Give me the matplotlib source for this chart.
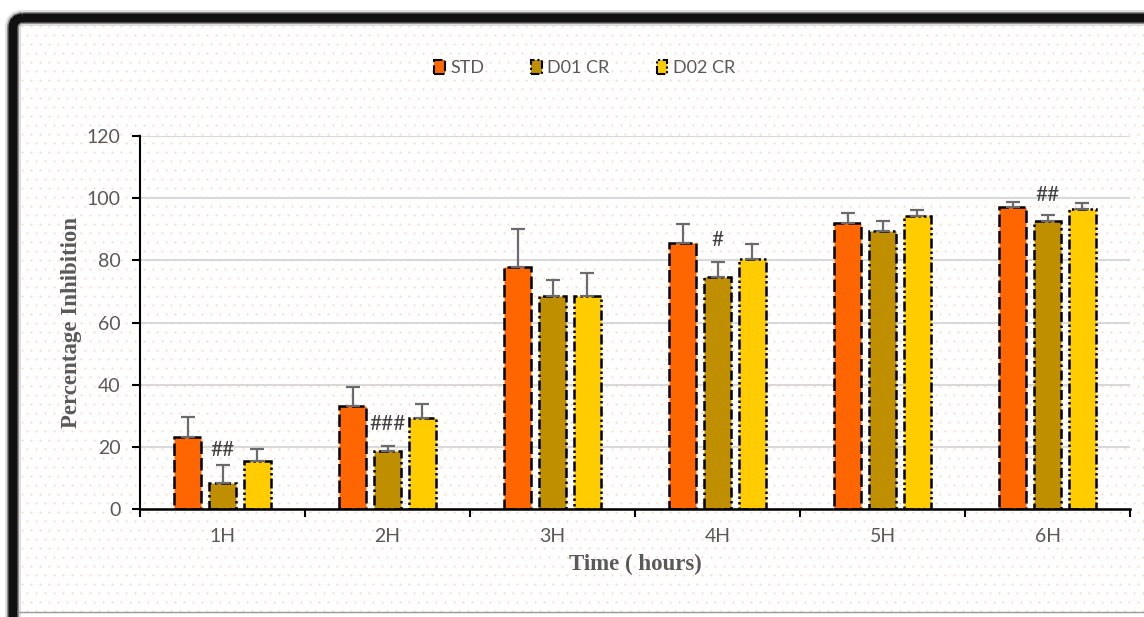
import numpy as np
import matplotlib
matplotlib.use("Agg")
import matplotlib.pyplot as plt
from matplotlib.patches import Patch, FancyBboxPatch

# data
hours = ["1H", "2H", "3H", "4H", "5H", "6H"]
std_vals = [23.2, 33.1, 77.9, 85.6, 92.0, 97.2]
std_err = [6.4, 6.2, 12.2, 6.1, 3.2, 1.6]
d01_vals = [8.4, 18.7, 68.5, 74.6, 89.4, 92.7]
d01_err = [5.8, 1.6, 5.2, 4.9, 3.3, 1.9]
d02_vals = [15.4, 29.3, 68.5, 80.4, 94.3, 96.5]
d02_err = [3.9, 4.5, 7.4, 4.9, 1.9, 2.0]
marks = ["##", "###", "", "#", "", "##"]
mark_y = [19.0, 27.5, 0, 86.5, 0, 101.0]

series = [
    ("STD", std_vals, std_err, "#ff6600", (0, (5, 1.6))),
    ("D01 CR", d01_vals, d01_err, "#bf8f00", (0, (4, 1.4, 1, 1.4))),
    ("D02 CR", d02_vals, d02_err, "#ffcc00", (0, (4, 1.2, 1, 1.2, 1, 1.2))),
]

fig = plt.figure(figsize=(11.44, 6.17), dpi=100)
fig.patch.set_facecolor("white")

# faint dotted background
bg = fig.add_axes([0, 0, 1, 1], zorder=-5)
bg.set_xlim(0, 1144)
bg.set_ylim(617, 0)
bg.axis("off")
gx, gy = np.meshgrid(np.arange(22, 1144, 9), np.arange(26, 617, 9))
gx = gx + (np.arange(gx.shape[0])[:, None] % 2) * 4.5
bg.scatter(gx.ravel(), gy.ravel(), s=2.0, color="#fad8c0", linewidths=0)
# frame with shadow
for w, c in [(16, "#dddddd"), (12, "#8a8a8a"), (9, "#111111")]:
    bg.add_patch(FancyBboxPatch((13, 18), 1160, 640, boxstyle="round,pad=0,rounding_size=10",
                                fill=False, lw=w * 0.72, edgecolor=c))
bg.plot([18, 1144], [612, 612], color="#9a9a9a", lw=1)

ax = fig.add_axes([140 / 1144, 1 - 509 / 617, 990 / 1144, 373 / 617])
ax.set_facecolor("none")
x = np.arange(len(hours))
offs = [-0.212, 0, 0.212]
width = 0.164

for (name, vals, err, col, ls), off in zip(series, offs):
    ax.bar(x + off, vals, width, color=col, edgecolor="black", linewidth=1.8,
           linestyle=ls, zorder=3)
    ax.errorbar(x + off, vals, yerr=[np.zeros(len(err)), err], fmt="none",
                ecolor="#6b6b6b", elinewidth=1.6, capsize=5, capthick=1.6, zorder=4)

for i, m in enumerate(marks):
    if m:
        ax.text(x[i], mark_y[i], m, ha="center", va="center", fontsize=15,
                family="Lato", color="#404040", zorder=5)

ax.set_xlim(-0.5, 5.5)
ax.set_ylim(0, 120)
ax.set_yticks(range(0, 121, 20))
ax.set_xticks(x)
ax.set_xticklabels(hours)
ax.set_xticks(np.arange(-0.5, 6, 1), minor=True)
ax.tick_params(axis="x", which="major", length=0, pad=14, labelsize=14, labelcolor="#595959")
ax.tick_params(axis="x", which="minor", length=6, width=1.5, color="black", direction="out")
ax.tick_params(axis="y", length=6, width=1.5, labelsize=14, labelcolor="#595959", pad=8)
for lab in ax.get_xticklabels() + ax.get_yticklabels():
    lab.set_family("Lato")
ax.grid(axis="y", color="#d9d9d9", lw=1.5, zorder=0)
for s in ["top", "right"]:
    ax.spines[s].set_visible(False)
ax.spines["left"].set_linewidth(1.5)
ax.spines["bottom"].set_linewidth(1.8)
ax.spines["bottom"].set_zorder(6)

ax.set_ylabel("Percentage Inhibition", family="Liberation Serif", fontweight="bold",
              fontsize=16.5, color="#595959", labelpad=3)
ax.set_xlabel("Time ( hours)", family="Liberation Serif", fontweight="bold",
              fontsize=16.5, color="#595959", labelpad=6)

handles = [Patch(facecolor=c, edgecolor="black", linewidth=1.5, linestyle=ls, label=n)
           for n, _, _, c, ls in series]
leg = fig.legend(handles=handles, loc="center", bbox_to_anchor=(0.511, 1 - 68 / 617),
                 ncol=3, frameon=False, handlelength=0.6, handleheight=0.8,
                 columnspacing=2.6, handletextpad=0.3,
                 prop={"family": "Lato", "size": 13})
for t in leg.get_texts():
    t.set_color("#595959")

fig.savefig("out.png", dpi=100)
